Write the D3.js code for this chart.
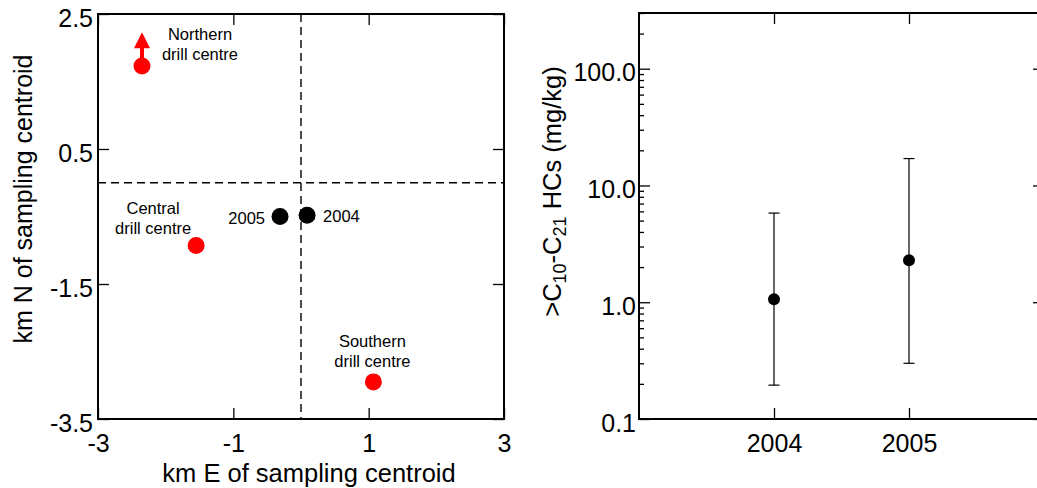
<!DOCTYPE html>
<html lang="en">
<head>
    <meta charset="UTF-8">
    <title>Drill centres and HC concentrations</title>
    <script src="https://d3js.org/d3.v7.min.js"></script>
    <style>
        body { margin: 0; background: #fff; }
        svg { display: block; }
        text { font-family: "Liberation Sans", Arial, sans-serif; fill: #000; }
        .axis path { display: none; }
        .axis line { stroke: #000; stroke-width: 1.3; }
        .frame { fill: none; stroke: #000; stroke-width: 2; }
    </style>
</head>
<body>
<svg width="1037" height="488"></svg>
<script>
    // left panel: drill centres and sampling centroids (km from centroid)
    const sites = ["Northern", "Central", "Southern"];
    const siteE = [-2.35, -1.55, 1.07];
    const siteN = [1.73, -0.93, -2.95];
    const northArrowTip = 2.23;   // arrow shows northern centre lies further north

    const centroidYears = ["2005", "2004"];
    const centroidE = [-0.31, 0.09];
    const centroidN = [-0.50, -0.48];

    const kmTicksE = [-3, -1, 1, 3];
    const kmTicksN = [-3.5, -1.5, 0.5, 2.5];

    // right panel: >C10-C21 HCs (mg/kg)
    const hcYears = [2004, 2005];
    const hcMean = [1.06, 2.29];
    const hcLow = [0.195, 0.30];
    const hcHigh = [5.8, 17.0];
    const hcTicks = [0.1, 1, 10, 100];

    const svg = d3.select("svg");
    // plain hyphen for negatives, like the original
    const fmt1 = d => d3.format(".1f")(d).replace("\u2212", "-");
    const fmt0 = d => String(d);

    // ---------- left panel ----------
    const x1 = d3.scaleLinear().domain([-3, 3]).range([98, 504]);
    const y1 = d3.scaleLinear().domain([-3.5, 2.5]).range([419, 14]);

    const left = svg.append("g");

    left.append("g").attr("class", "axis")
        .attr("transform", "translate(98,0)")
        .call(d3.axisLeft(y1).tickValues(kmTicksN).tickSize(-11).tickSizeOuter(0).tickPadding(5).tickFormat(fmt1))
      .selectAll("text").style("font-size", "25px").attr("dy", "0.48em");
    left.append("g").attr("class", "axis")
        .attr("transform", "translate(504,0)")
        .call(d3.axisRight(y1).tickValues(kmTicksN).tickSize(-11).tickSizeOuter(0).tickFormat(""));
    left.append("g").attr("class", "axis")
        .attr("transform", "translate(0,419)")
        .call(d3.axisBottom(x1).tickValues(kmTicksE).tickSize(-11).tickSizeOuter(0).tickPadding(15).tickFormat(fmt0))
      .selectAll("text").style("font-size", "25px");
    left.append("g").attr("class", "axis")
        .attr("transform", "translate(0,14)")
        .call(d3.axisTop(x1).tickValues(kmTicksE).tickSize(-11).tickSizeOuter(0).tickFormat(""));

    left.append("rect").attr("class", "frame")
        .attr("x", x1(-3)).attr("y", y1(2.5))
        .attr("width", x1(3) - x1(-3)).attr("height", y1(-3.5) - y1(2.5));

    // dashed cross through the sampling centroid
    left.append("line")
        .attr("x1", x1(-3)).attr("x2", x1(3)).attr("y1", y1(0)).attr("y2", y1(0))
        .attr("stroke", "#000").attr("stroke-width", 1.4).attr("stroke-dasharray", "8,5");
    left.append("line")
        .attr("x1", x1(0)).attr("x2", x1(0)).attr("y1", y1(2.5)).attr("y2", y1(-3.5))
        .attr("stroke", "#000").attr("stroke-width", 1.4).attr("stroke-dasharray", "8,5");

    // northern arrow
    const ax = x1(siteE[0]);
    left.append("line")
        .attr("x1", ax).attr("x2", ax)
        .attr("y1", y1(siteN[0])).attr("y2", y1(northArrowTip) + 14)
        .attr("stroke", "#f00").attr("stroke-width", 4);
    left.append("path")
        .attr("d", `M${ax},${y1(northArrowTip)} L${ax - 8},${y1(northArrowTip) + 16} L${ax + 8},${y1(northArrowTip) + 16} Z`)
        .attr("fill", "#f00");

    const siteData = sites.map((s, i) => ({ name: s, e: siteE[i], n: siteN[i] }));
    left.selectAll(".site").data(siteData).enter().append("circle")
        .attr("class", "site")
        .attr("cx", d => x1(d.e)).attr("cy", d => y1(d.n))
        .attr("r", 8.5).attr("fill", "#f00");

    // label offsets relative to each centre
    const labelOff = { Northern: [58, -26], Central: [-43, -32], Southern: [-1, -35] };
    siteData.forEach(d => {
        const o = labelOff[d.name];
        const t = left.append("text")
            .attr("text-anchor", "middle")
            .style("font-size", "16.5px");
        t.append("tspan").attr("x", x1(d.e) + o[0]).attr("y", y1(d.n) + o[1]).text(d.name);
        t.append("tspan").attr("x", x1(d.e) + o[0]).attr("y", y1(d.n) + o[1] + 20.5).text("drill centre");
    });

    const centData = centroidYears.map((yr, i) => ({ yr: yr, e: centroidE[i], n: centroidN[i] }));
    left.selectAll(".cent").data(centData).enter().append("circle")
        .attr("class", "cent")
        .attr("cx", d => x1(d.e)).attr("cy", d => y1(d.n))
        .attr("r", 8.5).attr("fill", "#000");
    left.selectAll(".centLabel").data(centData).enter().append("text")
        .attr("class", "centLabel")
        .attr("x", d => x1(d.e) + (d.yr === "2005" ? -15 : 16))
        .attr("y", d => y1(d.n) + 7)
        .attr("text-anchor", d => d.yr === "2005" ? "end" : "start")
        .style("font-size", "16.5px")
        .text(d => d.yr);

    left.append("text")
        .attr("x", 309).attr("y", 482)
        .attr("text-anchor", "middle")
        .style("font-size", "25.5px")
        .text("km E of sampling centroid");
    left.append("text")
        .attr("transform", "translate(32,199) rotate(-90)")
        .attr("text-anchor", "middle")
        .style("font-size", "25px")
        .text("km N of sampling centroid");

    // ---------- right panel ----------
    const x2 = d3.scaleLinear().domain([2003, 2006]).range([639, 1044]);
    const y2 = d3.scaleLog().domain([0.1, 300]).range([419, 13]);

    const minorTicks = [];
    [0.1, 1, 10, 100].forEach(dec => {
        for (let m = 2; m <= 9; m++) {
            const v = dec * m;
            if (v <= 300) minorTicks.push(v);
        }
    });

    const right = svg.append("g");

    right.append("g").attr("class", "axis")
        .attr("transform", "translate(639,0)")
        .call(d3.axisLeft(y2).tickValues(hcTicks).tickSize(-11).tickSizeOuter(0).tickPadding(3).tickFormat(fmt1))
      .selectAll("text").style("font-size", "25px").attr("dy", "0.48em");
    right.append("g").attr("class", "axis")
        .attr("transform", "translate(639,0)")
        .call(d3.axisLeft(y2).tickValues(minorTicks).tickSize(-5).tickSizeOuter(0).tickFormat(""));
    right.append("g").attr("class", "axis")
        .attr("transform", "translate(1044,0)")
        .call(d3.axisRight(y2).tickValues(hcTicks).tickSize(-11).tickSizeOuter(0).tickFormat(""));
    right.append("g").attr("class", "axis")
        .attr("transform", "translate(0,419)")
        .call(d3.axisBottom(x2).tickValues(hcYears).tickSize(-11).tickSizeOuter(0).tickPadding(15).tickFormat(d3.format("d")))
      .selectAll("text").style("font-size", "25px");
    right.append("g").attr("class", "axis")
        .attr("transform", "translate(0,13)")
        .call(d3.axisTop(x2).tickValues(hcYears).tickSize(-11).tickSizeOuter(0).tickFormat(""));

    right.append("rect").attr("class", "frame")
        .attr("x", x2(2003)).attr("y", y2(300))
        .attr("width", x2(2006) - x2(2003)).attr("height", y2(0.1) - y2(300));

    const hcData = hcYears.map((yr, i) => ({ yr: yr, mean: hcMean[i], lo: hcLow[i], hi: hcHigh[i] }));

    const bars = right.selectAll(".err").data(hcData).enter().append("g").attr("class", "err");
    bars.append("line")
        .attr("x1", d => x2(d.yr)).attr("x2", d => x2(d.yr))
        .attr("y1", d => y2(d.lo)).attr("y2", d => y2(d.hi))
        .attr("stroke", "#000").attr("stroke-width", 1.2);
    bars.append("line")
        .attr("x1", d => x2(d.yr) - 5.5).attr("x2", d => x2(d.yr) + 5.5)
        .attr("y1", d => y2(d.hi)).attr("y2", d => y2(d.hi))
        .attr("stroke", "#000").attr("stroke-width", 1.2);
    bars.append("line")
        .attr("x1", d => x2(d.yr) - 5.5).attr("x2", d => x2(d.yr) + 5.5)
        .attr("y1", d => y2(d.lo)).attr("y2", d => y2(d.lo))
        .attr("stroke", "#000").attr("stroke-width", 1.2);
    bars.append("circle")
        .attr("cx", d => x2(d.yr)).attr("cy", d => y2(d.mean))
        .attr("r", 6).attr("fill", "#000");

    const yTitle = right.append("text")
        .attr("transform", "translate(561,191.5) rotate(-90)")
        .attr("text-anchor", "middle")
        .style("font-size", "25.5px");
    yTitle.append("tspan").text(">C");
    yTitle.append("tspan").attr("dy", 5).style("font-size", "18px").text("10");
    yTitle.append("tspan").attr("dy", -5).text("-C");
    yTitle.append("tspan").attr("dy", 5).style("font-size", "18px").text("21");
    yTitle.append("tspan").attr("dy", -5).text(" HCs (mg/kg)");
</script>
</body>
</html>
